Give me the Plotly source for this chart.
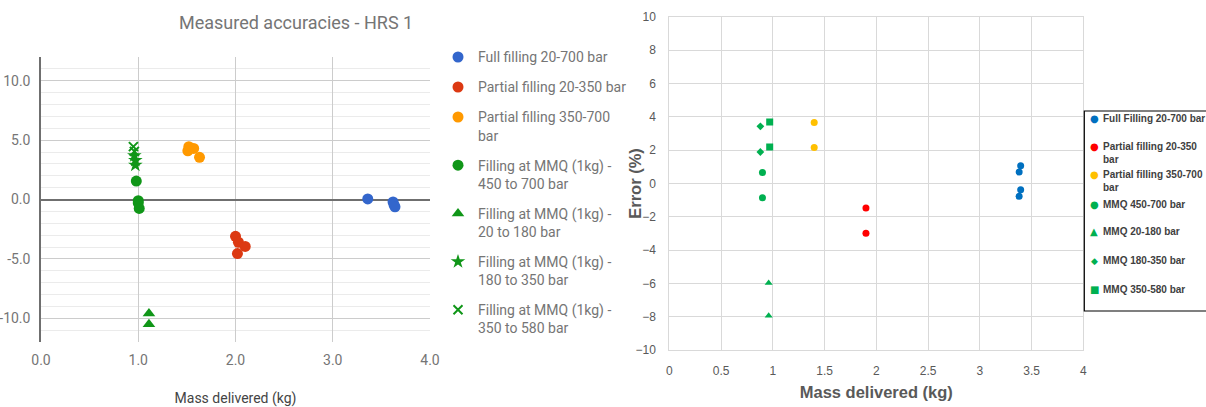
import plotly.graph_objects as go

W, H = 1206, 407


def fx(p):
    return p / W


def fy(p):
    return 1 - p / H


# ---------------- Left chart: Measured accuracies - HRS 1 ----------------
left_names = [
    "Full filling 20-700 bar",
    "Partial filling 20-350 bar",
    "Partial filling 350-700<br>bar",
    "Filling at MMQ (1kg) -<br>450 to 700 bar",
    "Filling at MMQ (1kg) -<br>20 to 180 bar",
    "Filling at MMQ (1kg) -<br>180 to 350 bar",
    "Filling at MMQ (1kg) -<br>350 to 580 bar",
]
full_x = [3.36, 3.62, 3.63, 3.64]
full_y = [0.05, -0.2, -0.45, -0.62]
p20_x = [2.00, 2.03, 2.10, 2.02]
p20_y = [-3.1, -3.6, -3.95, -4.55]
p350_x = [1.52, 1.57, 1.51, 1.63]
p350_y = [4.45, 4.3, 4.1, 3.55]
mmq450_x = [0.98, 1.00, 1.00, 1.01]
mmq450_y = [1.55, -0.1, -0.3, -0.75]
mmq20_x = [1.11, 1.11]
mmq20_y = [-9.6, -10.5]
mmq180_x = [0.96, 0.97, 0.97]
mmq180_y = [3.7, 3.3, 2.9]
mmq350_x = [0.95, 0.96]
mmq350_y = [4.45, 4.05]

left_x = [full_x, p20_x, p350_x, mmq450_x, mmq20_x, mmq180_x, mmq350_x]
left_y = [full_y, p20_y, p350_y, mmq450_y, mmq20_y, mmq180_y, mmq350_y]
left_colors = ["#3366cc", "#dc3912", "#ff9900", "#109618", "#109618", "#109618", "#109618"]
left_symbols = ["circle", "circle", "circle", "circle", "triangle-up", "star", "x-thin-open"]
left_sizes = [11, 11, 11, 11, 11, 11, 9]

left_xticks = [0, 1, 2, 3, 4]
left_yticks = [-10, -5, 0, 5, 10]
left_yticktext = ["-10.0", "-5.0", "0.0", "5.0", "10.0"]

# ---------------- Right chart ----------------
right_names = [
    "Full Filling 20-700 bar",
    "Partial filling 20-350<br>bar",
    "Partial filling 350-700<br>bar",
    "MMQ 450-700 bar",
    "MMQ 20-180 bar",
    "MMQ 180-350 bar",
    "MMQ 350-580 bar",
]
r_full_x = [3.395, 3.38, 3.395, 3.38]
r_full_y = [1.06, 0.68, -0.38, -0.78]
r_p20_x = [1.90, 1.90]
r_p20_y = [-1.48, -3.0]
r_p350_x = [1.40, 1.40]
r_p350_y = [3.65, 2.15]
r_450_x = [0.90, 0.90]
r_450_y = [0.65, -0.87]
r_20_x = [0.96, 0.96]
r_20_y = [-5.98, -7.95]
r_180_x = [0.88, 0.88]
r_180_y = [3.42, 1.88]
r_350_x = [0.97, 0.97]
r_350_y = [3.68, 2.18]

right_x = [r_full_x, r_p20_x, r_p350_x, r_450_x, r_20_x, r_180_x, r_350_x]
right_y = [r_full_y, r_p20_y, r_p350_y, r_450_y, r_20_y, r_180_y, r_350_y]
right_colors = ["#0070C0", "#FF0000", "#FFC000", "#00B050", "#00B050", "#00B050", "#00B050"]
right_symbols = ["circle", "circle", "circle", "circle", "triangle-up", "diamond", "square"]
right_sizes = [7, 7, 7, 7, 7, 6, 7]
right_glyphs = ["●", "●", "●", "●", "▲", "◆", "■"]

right_xticks = [0, 0.5, 1, 1.5, 2, 2.5, 3, 3.5, 4]
right_yticks = [-10, -8, -6, -4, -2, 0, 2, 4, 6, 8, 10]

fig = go.Figure()

for i in range(len(left_names)):
    sym = left_symbols[i]
    marker = dict(color=left_colors[i], size=left_sizes[i], symbol=sym)
    if sym.startswith("x-thin"):
        marker["line"] = dict(color=left_colors[i], width=2)
    else:
        marker["line"] = dict(width=0)
    fig.add_trace(go.Scatter(
        x=left_x[i], y=left_y[i], mode="markers", name=left_names[i],
        marker=marker, xaxis="x", yaxis="y", legendgroup="g%d" % i,
        showlegend=True, hoverinfo="x+y",
    ))

for i in range(len(right_names)):
    fig.add_trace(go.Scatter(
        x=right_x[i], y=right_y[i], mode="markers", name=right_names[i].replace("<br>", " "),
        marker=dict(color=right_colors[i], size=right_sizes[i], symbol=right_symbols[i], line=dict(width=0)),
        xaxis="x2", yaxis="y2", showlegend=False, hoverinfo="x+y",
    ))

gfont = dict(family="Roboto", size=14, color="#757575")
efont = dict(family="Liberation Sans", size=12, color="#595959")

fig.update_layout(
    width=W, height=H, autosize=False,
    margin=dict(l=0, r=0, t=0, b=0, autoexpand=False),
    paper_bgcolor="white", plot_bgcolor="white",
    showlegend=True,
    xaxis=dict(
        domain=[fx(41), fx(430)], range=[0, 4], tickvals=left_xticks,
        tickformat=".1f", showgrid=True, gridcolor="#cccccc", gridwidth=1,
        zeroline=False, showline=False, ticks="", tickfont=gfont,
        ticklabelstandoff=8, automargin=False,
        title=dict(text="Mass delivered (kg)", font=dict(family="Roboto", size=14, color="#444444"), standoff=27),
        anchor="y", fixedrange=True,
    ),
    yaxis=dict(
        domain=[fy(342), fy(57)], range=[-12, 12], tickvals=left_yticks,
        ticktext=left_yticktext, showgrid=True, gridcolor="#cccccc", gridwidth=1,
        minor=dict(dtick=1, showgrid=True, gridcolor="#ebebeb", gridwidth=1),
        zeroline=True, zerolinecolor="#6f6f6f", zerolinewidth=1.5,
        showline=True, linecolor="#6f6f6f", linewidth=1.5, automargin=False,
        ticks="", tickfont=gfont, ticklabelstandoff=6, anchor="x", fixedrange=True,
    ),
    xaxis2=dict(
        domain=[fx(669.3), fx(1083.3)], range=[0, 4], tickvals=right_xticks,
        showgrid=True, gridcolor="#d9d9d9", gridwidth=1, zeroline=False,
        showline=True, mirror=True, linecolor="#d9d9d9", linewidth=1,
        ticks="", tickfont=efont, ticklabelstandoff=10, automargin=False,
        title=dict(text="Mass delivered (kg)", font=dict(family="Liberation Sans", size=16.5, color="#595959", weight="bold"), standoff=9),
        anchor="y2", fixedrange=True,
    ),
    yaxis2=dict(
        domain=[fy(350), fy(16.7)], range=[-10, 10], tickvals=right_yticks,
        showgrid=True, gridcolor="#d9d9d9", gridwidth=1,
        zeroline=True, zerolinecolor="#d9d9d9", zerolinewidth=1,
        showline=True, mirror=True, linecolor="#d9d9d9", linewidth=1,
        ticks="", tickfont=efont, ticklabelstandoff=10, automargin=False,
        anchor="x2", fixedrange=True,
    ),
    legend=dict(
        x=fx(438), y=fy(41.4), xanchor="left", yanchor="top",
        font=dict(family="Roboto", size=14, color="#757575"),
        tracegroupgap=8.8, valign="top", itemsizing="trace",
        bgcolor="rgba(0,0,0,0)", borderwidth=0, itemclick=False, itemdoubleclick=False,
    ),
)

annotations = [
    dict(text="Measured accuracies - HRS 1", x=fx(296), y=fy(23), xref="paper", yref="paper",
         showarrow=False, xanchor="center", yanchor="middle",
         font=dict(family="Roboto", size=18, color="#757575")),
    # y-axis title of the right chart, placed as in the reference (close to the tick labels)
    dict(text="<b>Error (%)</b>", x=fx(635.5), y=fy(183.3), xref="paper", yref="paper",
         showarrow=False, xanchor="center", yanchor="middle", textangle=-90,
         font=dict(family="Liberation Sans", size=16.5, color="#595959")),
]

# Right legend (Excel style, framed box cut by the image edge)
item_y = [118, 146.7, 175, 204, 231.7, 260.7, 289.3]
for i, name in enumerate(right_names):
    annotations.append(dict(
        text="<b>%s</b>" % name, x=fx(1100.5), y=fy(item_y[i] - 7.5), xref="paper", yref="paper",
        showarrow=False, xanchor="left", yanchor="top", align="left",
        font=dict(family="Liberation Sans", size=10, color="#404040"),
    ))
    annotations.append(dict(
        text=right_glyphs[i], x=fx(1094), y=fy(item_y[i]), xref="paper", yref="paper",
        showarrow=False, xanchor="center", yanchor="middle",
        font=dict(family="DejaVu Sans", size=10 if right_glyphs[i] != "◆" else 9, color=right_colors[i]),
    ))

fig.update_layout(annotations=annotations)
fig.add_shape(type="rect", xref="paper", yref="paper",
              x0=fx(1084.3), x1=fx(1215), y0=fy(311), y1=fy(111),
              line=dict(color="#000000", width=1.2), fillcolor="rgba(0,0,0,0)")

fig.write_html(
    "out.html",
    config={"displayModeBar": False},
    post_script="document.body.style.margin='0';document.body.style.overflow='hidden';",
)
